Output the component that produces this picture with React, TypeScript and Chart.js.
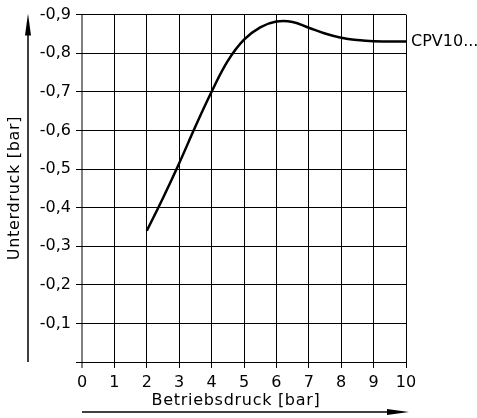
import React, { useEffect, useRef } from "react";
import { Chart, registerables } from "chart.js";

Chart.register(...registerables);

const seriesLabel = "CPV10...";
const xTitle = "Betriebsdruck [bar]";
const yTitle = "Unterdruck [bar]";
const pressure = [2, 2.5, 3, 3.5, 4, 4.5, 5, 5.5, 6, 6.5, 7, 7.5, 8, 8.5, 9, 10];
const vacuum = [-0.34, -0.425, -0.515, -0.61, -0.7, -0.78, -0.835, -0.867, -0.882, -0.881, -0.866, -0.851, -0.84, -0.834, -0.831, -0.83];
const xTicks = [0, 1, 2, 3, 4, 5, 6, 7, 8, 9, 10];
const yTicks = [-0.9, -0.8, -0.7, -0.6, -0.5, -0.4, -0.3, -0.2, -0.1, 0];

const FONT = "DejaVu Sans";

const decorPlugin = {
  id: "decor",
  afterDraw(chart: any) {
    const ctx = chart.ctx;
    const xs = chart.scales.x;
    const ys = chart.scales.y;
    const area = chart.chartArea;
    ctx.save();
    ctx.fillStyle = "#000";
    ctx.strokeStyle = "#000";
    ctx.font = `16px "${FONT}"`;

    // series label
    const lx = xs.getPixelForValue(pressure[pressure.length - 1]) + 5;
    const ly = ys.getPixelForValue(vacuum[vacuum.length - 1]);
    ctx.textAlign = "left";
    ctx.textBaseline = "middle";
    ctx.fillText(seriesLabel, lx, ly);

    // y arrow
    const ax = 28;
    ctx.lineWidth = 1.5;
    ctx.beginPath();
    ctx.moveTo(ax, area.bottom);
    ctx.lineTo(ax, area.top + 10);
    ctx.stroke();
    ctx.beginPath();
    ctx.moveTo(ax, area.top - 1);
    ctx.lineTo(ax - 3, area.top + 21);
    ctx.lineTo(ax + 3, area.top + 21);
    ctx.closePath();
    ctx.fill();

    // x arrow
    const ay = 412;
    ctx.beginPath();
    ctx.moveTo(area.left, ay);
    ctx.lineTo(area.right - 10, ay);
    ctx.stroke();
    ctx.beginPath();
    ctx.moveTo(area.right + 3, ay);
    ctx.lineTo(area.right - 19, ay - 3);
    ctx.lineTo(area.right - 19, ay + 3);
    ctx.closePath();
    ctx.fill();

    // titles
    try {
      (ctx as any).letterSpacing = "0.7px";
    } catch (e) {}
    ctx.textAlign = "center";
    ctx.textBaseline = "middle";
    ctx.fillText(xTitle, (area.left + area.right) / 2 - 8, 401);

    ctx.save();
    ctx.translate(15, 188);
    ctx.rotate(-Math.PI / 2);
    ctx.fillText(yTitle, 0, 0);
    ctx.restore();

    ctx.restore();
  },
};

export default function App() {
  const ref = useRef<HTMLCanvasElement | null>(null);
  useEffect(() => {
    if (!ref.current) return;
    Chart.defaults.font.family = FONT;
    Chart.defaults.font.size = 16;
    Chart.defaults.color = "#000";
    const chart = new Chart(ref.current, {
      type: "line",
      data: {
        datasets: [
          {
            label: seriesLabel,
            data: pressure.map((p, i) => ({ x: p, y: vacuum[i] })),
            borderColor: "#000",
            borderWidth: 2.5,
            pointRadius: 0,
            tension: 0.4,
            fill: false,
          },
        ],
      },
      options: {
        animation: false,
        responsive: true,
        maintainAspectRatio: false,
        layout: { padding: { top: 13, right: 71, left: 0, bottom: 0 } },
        plugins: { legend: { display: false }, tooltip: { enabled: false } },
        scales: {
          x: {
            type: "linear",
            min: 0,
            max: 10,
            afterBuildTicks: (s: any) => {
              s.ticks = xTicks.map((v) => ({ value: v }));
            },
            afterFit: (s: any) => {
              s.height = 56;
            },
            border: { display: false },
            grid: {
              color: (c: any) => (c.tick && c.tick.value === 0 ? "#808080" : "#000"),
              lineWidth: (c: any) => (c.tick && c.tick.value === 0 ? 2 : 1),
              tickLength: 6,
              drawOnChartArea: true,
            },
            ticks: {
              padding: 5,
              maxRotation: 0,
              autoSkip: false,
              font: { family: FONT, size: 16 },
              color: "#000",
              callback: (v: any) => String(v),
            },
          },
          y: {
            type: "linear",
            min: -0.9,
            max: 0,
            reverse: true,
            afterBuildTicks: (s: any) => {
              s.ticks = yTicks.map((v) => ({ value: v }));
            },
            afterFit: (s: any) => {
              s.width = 82;
            },
            border: { display: false },
            grid: {
              color: "#000",
              lineWidth: 1,
              tickLength: 6,
            },
            ticks: {
              padding: 5,
              autoSkip: false,
              font: { family: FONT, size: 16 },
              color: "#000",
              callback: (v: any) => {
                const n = Number(v);
                if (Math.abs(n) < 1e-9) return "";
                return n.toFixed(1).replace(".", ",");
              },
            },
          },
        },
      },
      plugins: [decorPlugin],
    } as any);
    return () => chart.destroy();
  }, []);
  return (
    <div style={{ position: "absolute", left: 0, top: 0, width: 477, height: 418 }}>
      <canvas ref={ref} />
    </div>
  );
}
